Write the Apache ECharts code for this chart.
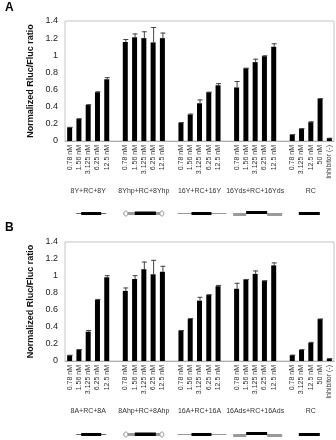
<!DOCTYPE html>
<html>
<head>
<meta charset="utf-8">
<script src="https://cdn.jsdelivr.net/npm/echarts@6/dist/echarts.min.js"></script>
<style>
html, body { margin: 0; padding: 0; background: #fff; }
#chart { width: 336px; height: 440px; }
</style>
</head>
<body>
<div id="chart"></div>
<script>
// dose labels under each bar
const concLabels = ['0.78 nM', '1.56 nM', '3.125 nM', '6.25 nM', '12.5 nM'];
const rcLabels = ['0.78 nM', '3.125 nM', '12.5 nM', '50 nM', 'Inhibitor (-)'];

const groupNamesA = ['8Y+RC+8Y', '8Yhp+RC+8Yhp', '16Y+RC+16Y', '16Yds+RC+16Yds', 'RC'];
const groupNamesB = ['8A+RC+8A', '8Ahp+RC+8Ahp', '16A+RC+16A', '16Ads+RC+16Ads', 'RC'];
const schemeTypes = ['single', 'hairpin', 'long', 'duplex', 'rc'];

const yTicks = [0, 0.2, 0.4, 0.6, 0.8, 1, 1.2, 1.4];

// panel A
const valuesA1 = [0.16, 0.26, 0.42, 0.57, 0.72];
const valuesA2 = [1.155, 1.21, 1.2, 1.15, 1.2];
const valuesA3 = [0.215, 0.31, 0.44, 0.57, 0.65];
const valuesA4 = [0.625, 0.85, 0.92, 0.99, 1.1];
const valuesA5 = [0.075, 0.145, 0.22, 0.495, 0.035];
const errorsA1 = [0.005, 0.005, 0.01, 0.01, 0.025];
const errorsA2 = [0.035, 0.045, 0.08, 0.18, 0.065];
const errorsA3 = [0.005, 0.01, 0.045, 0.005, 0.025];
const errorsA4 = [0.075, 0.005, 0.04, 0.01, 0.04];
const errorsA5 = [0.005, 0.005, 0.01, 0.005, 0.003];

// panel B
const valuesB1 = [0.068, 0.135, 0.345, 0.72, 0.985];
const valuesB2 = [0.825, 0.965, 1.08, 1.02, 1.05];
const valuesB3 = [0.36, 0.495, 0.71, 0.78, 0.88];
const valuesB4 = [0.85, 0.96, 1.025, 0.945, 1.125];
const valuesB5 = [0.07, 0.13, 0.215, 0.495, 0.03];
const errorsB1 = [0.005, 0.005, 0.02, 0.01, 0.025];
const errorsB2 = [0.04, 0.045, 0.09, 0.17, 0.07];
const errorsB3 = [0.005, 0.01, 0.045, 0.005, 0.015];
const errorsB4 = [0.07, 0.005, 0.04, 0.005, 0.035];
const errorsB5 = [0.005, 0.01, 0.01, 0.005, 0.003];

const FONT = '"Liberation Sans", Arial, sans-serif';

// one blank slot between groups
function buildCategories() {
    let cats = [];
    for (let g = 0; g < 5; g++) {
        if (g > 0) cats.push('');
        cats = cats.concat(g === 4 ? rcLabels : concLabels);
    }
    return cats;
}
function flatten(groups) {
    let out = [];
    groups.forEach((g, i) => {
        if (i > 0) out.push(null);
        out = out.concat(g);
    });
    return out;
}
function errorData(vals, errs) {
    const data = [];
    vals.forEach((v, i) => {
        if (v !== null && errs[i] !== null) data.push([i, v, errs[i]]);
    });
    return data;
}

const categories = buildCategories();
const barsA = flatten([valuesA1, valuesA2, valuesA3, valuesA4, valuesA5]);
const errsA = flatten([errorsA1, errorsA2, errorsA3, errorsA4, errorsA5]);
const barsB = flatten([valuesB1, valuesB2, valuesB3, valuesB4, valuesB5]);
const errsB = flatten([errorsB1, errorsB2, errorsB3, errorsB4, errorsB5]);

const renderError = (params, api) => {
    const x = api.value(0);
    const base = api.coord([x, api.value(1)]);
    const top = api.coord([x, api.value(1) + api.value(2)]);
    const style = { stroke: '#444', lineWidth: 1 };
    return {
        type: 'group',
        children: [
            { type: 'line', shape: { x1: base[0] + 0.5, y1: base[1], x2: base[0] + 0.5, y2: top[1] }, style: style },
            { type: 'line', shape: { x1: base[0] - 2, y1: top[1] + 0.5, x2: base[0] + 3, y2: top[1] + 0.5 }, style: style }
        ]
    };
};

const makeX = (idx) => ({
    type: 'category',
    gridIndex: idx,
    data: categories,
    axisTick: { show: false },
    axisLine: { lineStyle: { color: '#b0b0b0', width: 1 } },
    axisLabel: { interval: 0, rotate: 90, fontSize: 7, margin: 4, color: '#333', fontFamily: FONT }
});
const makeY = (idx) => ({
    type: 'value',
    gridIndex: idx,
    min: 0,
    max: 1.4,
    interval: 0.2,
    splitLine: { show: false },
    axisLine: { show: false },
    axisTick: { show: false },
    name: 'Normalized Rluc/Fluc ratio',
    nameLocation: 'middle',
    nameGap: 18,
    nameTextStyle: { fontSize: 9, fontWeight: 'bold', color: '#111', fontFamily: FONT },
    axisLabel: {
        fontSize: 9, color: '#222', margin: 7, fontFamily: FONT,
        formatter: (v) => String(Math.round(v * 10) / 10)
    }
});

const options = {
    animation: false,
    grid: [
        { left: 65, right: 2, top: 21, height: 120, show: true, borderColor: '#c4c4c4', borderWidth: 1 },
        { left: 65, right: 2, top: 242, height: 119, show: true, borderColor: '#c4c4c4', borderWidth: 1 }
    ],
    xAxis: [makeX(0), makeX(1)],
    yAxis: [makeY(0), makeY(1)],
    series: [
        { type: 'bar', xAxisIndex: 0, yAxisIndex: 0, data: barsA, barWidth: 5, itemStyle: { color: '#000' } },
        { type: 'custom', xAxisIndex: 0, yAxisIndex: 0, data: errorData(barsA, errsA), renderItem: renderError, z: 3 },
        { type: 'bar', xAxisIndex: 1, yAxisIndex: 1, data: barsB, barWidth: 5, itemStyle: { color: '#000' } },
        { type: 'custom', xAxisIndex: 1, yAxisIndex: 1, data: errorData(barsB, errsB), renderItem: renderError, z: 3 }
    ]
};

const chart = echarts.init(document.getElementById('chart'));
chart.setOption(options);

// little construct sketches under every group
function scheme(type, cx, y) {
    const gray = '#9a9a9a';
    const rect = (x1, x2, yy, h, color) => ({ type: 'rect', shape: { x: cx + x1, y: yy, width: x2 - x1, height: h }, style: { fill: color } });
    const line = (x1, x2, yy, color) => ({ type: 'line', shape: { x1: cx + x1, y1: yy, x2: cx + x2, y2: yy }, style: { stroke: color, lineWidth: 1 } });
    if (type === 'single') return [line(-12, 18, y + 0.5, '#666'), rect(-7, 13, y - 1, 3, '#000')];
    if (type === 'hairpin') return [
        rect(-16, 16, y - 1, 3, gray), rect(-9, 12, y - 1.5, 3.5, '#000'),
        { type: 'ellipse', shape: { cx: cx - 18, cy: y + 0.5, rx: 2, ry: 2.5 }, style: { fill: 'none', stroke: '#888', lineWidth: 1 } },
        { type: 'ellipse', shape: { cx: cx + 18, cy: y + 0.5, rx: 2, ry: 2.5 }, style: { fill: 'none', stroke: '#888', lineWidth: 1 } }
    ];
    if (type === 'long') return [line(-22, 27, y + 0.5, gray), rect(-8, 12, y - 1, 3, '#000')];
    if (type === 'duplex') return [rect(-22, -9, y, 3, gray), rect(12, 27, y, 3, gray), rect(-9, 12, y - 2, 3, '#000')];
    return [rect(-12, 9, y - 1, 3, '#000')];
}

function decorate() {
    const elements = [
        { type: 'text', left: 5, top: 2, style: { text: 'A', font: 'bold 12px ' + FONT, fill: '#000' } },
        { type: 'text', left: 5, top: 222, style: { text: 'B', font: 'bold 12px ' + FONT, fill: '#000' } }
    ];
    [[groupNamesA, 0, 191, 213], [groupNamesB, 1, 411, 434]].forEach(([names, gi, labelY, schemeY]) => {
        names.forEach((name, g) => {
            const cx = chart.convertToPixel({ xAxisIndex: gi }, g * 6 + 2);
            elements.push({
                type: 'text', x: cx, y: labelY,
                style: { text: name, font: '7px ' + FONT, fill: '#333', align: 'center', verticalAlign: 'middle' }
            });
            scheme(schemeTypes[g], cx, schemeY).forEach((el) => elements.push(el));
        });
    });
    chart.setOption({ graphic: { elements: elements } });
}
decorate();
</script>
</body>
</html>
